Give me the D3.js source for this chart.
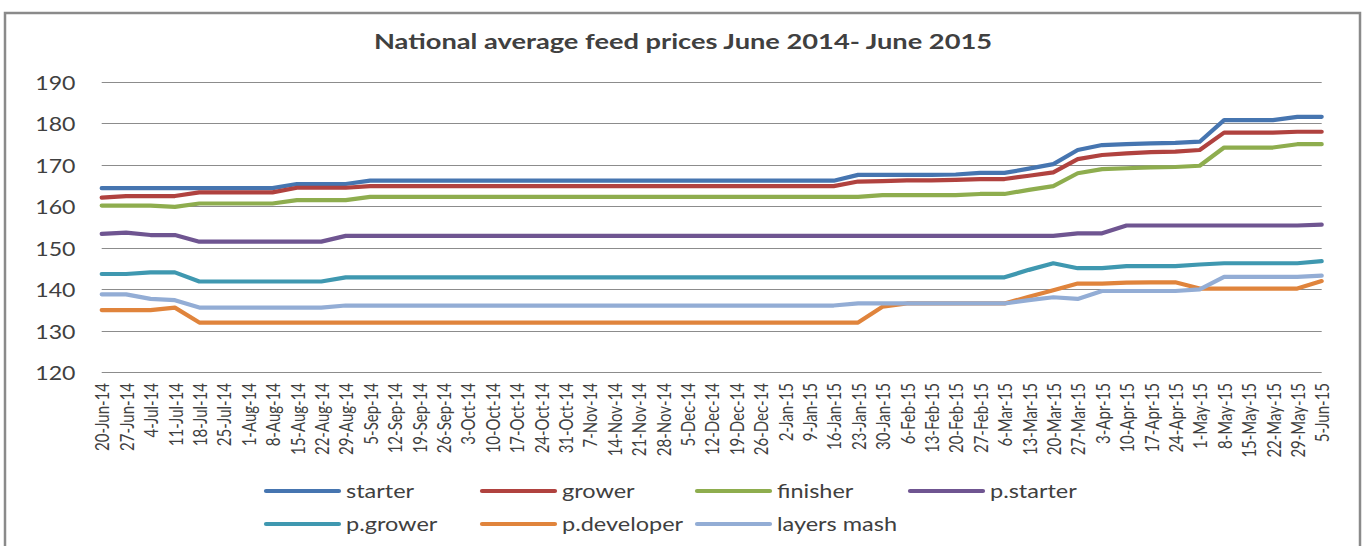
<!DOCTYPE html>
<html>
<head>
<meta charset="utf-8">
<script src="https://cdn.jsdelivr.net/npm/d3@7"></script>
<style>
html,body{margin:0;padding:0;background:#fff;}
svg{display:block;}
text{font-family:Lato,"Open Sans",sans-serif;fill:#404040;}
</style>
</head>
<body>
<svg id="chart" width="1366" height="546"></svg>
<script>
const categories = ["20-Jun-14","27-Jun-14","4-Jul-14","11-Jul-14","18-Jul-14","25-Jul-14","1-Aug-14","8-Aug-14","15-Aug-14","22-Aug-14","29-Aug-14","5-Sep-14","12-Sep-14","19-Sep-14","26-Sep-14","3-Oct-14","10-Oct-14","17-Oct-14","24-Oct-14","31-Oct-14","7-Nov-14","14-Nov-14","21-Nov-14","28-Nov-14","5-Dec-14","12-Dec-14","19-Dec-14","26-Dec-14","2-Jan-15","9-Jan-15","16-Jan-15","23-Jan-15","30-Jan-15","6-Feb-15","13-Feb-15","20-Feb-15","27-Feb-15","6-Mar-15","13-Mar-15","20-Mar-15","27-Mar-15","3-Apr-15","10-Apr-15","17-Apr-15","24-Apr-15","1-May-15","8-May-15","15-May-15","22-May-15","29-May-15","5-Jun-15"];

const starter = [164.4,164.4,164.4,164.4,164.4,164.4,164.4,164.4,165.4,165.4,165.4,166.2,166.2,166.2,166.2,166.2,166.2,166.2,166.2,166.2,166.2,166.2,166.2,166.2,166.2,166.2,166.2,166.2,166.2,166.2,166.2,167.6,167.6,167.6,167.6,167.7,168.1,168.1,169.1,170.2,173.6,174.8,175.0,175.2,175.3,175.6,180.8,180.8,180.8,181.6,181.6];
const grower = [162.1,162.5,162.5,162.5,163.4,163.4,163.4,163.4,164.5,164.5,164.5,164.9,164.9,164.9,164.9,164.9,164.9,164.9,164.9,164.9,164.9,164.9,164.9,164.9,164.9,164.9,164.9,164.9,164.9,164.9,164.9,166.0,166.1,166.3,166.3,166.4,166.6,166.6,167.4,168.2,171.4,172.4,172.8,173.1,173.2,173.6,177.8,177.8,177.8,178.0,178.0];
const finisher = [160.2,160.2,160.2,159.9,160.7,160.7,160.7,160.7,161.5,161.5,161.5,162.3,162.3,162.3,162.3,162.3,162.3,162.3,162.3,162.3,162.3,162.3,162.3,162.3,162.3,162.3,162.3,162.3,162.3,162.3,162.3,162.3,162.7,162.7,162.7,162.7,163.0,163.0,164.0,164.9,168.0,169.0,169.2,169.4,169.5,169.8,174.2,174.2,174.2,175.0,175.0];
const pStarter = [153.4,153.7,153.1,153.1,151.5,151.5,151.5,151.5,151.5,151.5,152.9,152.9,152.9,152.9,152.9,152.9,152.9,152.9,152.9,152.9,152.9,152.9,152.9,152.9,152.9,152.9,152.9,152.9,152.9,152.9,152.9,152.9,152.9,152.9,152.9,152.9,152.9,152.9,152.9,152.9,153.5,153.5,155.4,155.4,155.4,155.4,155.4,155.4,155.4,155.4,155.6];
const pGrower = [143.7,143.7,144.1,144.1,141.9,141.9,141.9,141.9,141.9,141.9,142.9,142.9,142.9,142.9,142.9,142.9,142.9,142.9,142.9,142.9,142.9,142.9,142.9,142.9,142.9,142.9,142.9,142.9,142.9,142.9,142.9,142.9,142.9,142.9,142.9,142.9,142.9,142.9,144.7,146.3,145.1,145.1,145.6,145.6,145.6,146.0,146.3,146.3,146.3,146.3,146.8];
const pDeveloper = [135.0,135.0,135.0,135.6,132.0,132.0,132.0,132.0,132.0,132.0,132.0,132.0,132.0,132.0,132.0,132.0,132.0,132.0,132.0,132.0,132.0,132.0,132.0,132.0,132.0,132.0,132.0,132.0,132.0,132.0,132.0,132.0,135.8,136.6,136.6,136.6,136.6,136.6,138.2,139.8,141.4,141.4,141.6,141.7,141.7,140.2,140.2,140.2,140.2,140.2,142.0];
const layersMash = [138.8,138.8,137.7,137.4,135.6,135.6,135.6,135.6,135.6,135.6,136.1,136.1,136.1,136.1,136.1,136.1,136.1,136.1,136.1,136.1,136.1,136.1,136.1,136.1,136.1,136.1,136.1,136.1,136.1,136.1,136.1,136.6,136.6,136.6,136.6,136.6,136.6,136.6,137.4,138.1,137.7,139.6,139.6,139.6,139.6,140.0,143.0,143.0,143.0,143.0,143.3];

const seriesNames = ["starter","grower","finisher","p.starter","p.grower","p.developer","layers mash"];
const seriesColors = ["#4675B0","#B0423F","#8EAD4E","#6F5591","#3F98B0","#E0843C","#93ADD5"];
const yTicks = [120,130,140,150,160,170,180,190];
const titleText = "National average feed prices June 2014- June 2015";

const seriesValues = [starter, grower, finisher, pStarter, pGrower, pDeveloper, layersMash];
const series = seriesNames.map((n,i)=>({name:n, color:seriesColors[i], values:seriesValues[i]}));

const SX = 1.25; // horizontal stretch of text
const svg = d3.select("#chart");

// outer frame
svg.append("rect").attr("x",5).attr("y",13).attr("width",1355).attr("height",560)
  .attr("fill","#fff").attr("stroke","#8a8a8a").attr("stroke-width",2.5);

const x = d3.scalePoint().domain(categories).range([101.7,1321.7]);
const y = d3.scaleLinear().domain([120,190]).range([372.3,82]);

// gridlines
svg.append("g").selectAll("line").data(yTicks).join("line")
  .attr("x1",101.7).attr("x2",1321.7)
  .attr("y1",d=>Math.round(y(d))+0.5).attr("y2",d=>Math.round(y(d))+0.5)
  .attr("stroke","#8c8c8c").attr("stroke-width",1);

// y labels
const yAxis = d3.axisLeft(y).tickValues(yTicks).tickSize(0).tickPadding(0);
const yg = svg.append("g").attr("transform","translate(75.5,0)").call(yAxis);
yg.select(".domain").remove();
yg.selectAll(".tick text").each(function(){
  const t = d3.select(this);
  t.attr("x",0).attr("dy",null).attr("dominant-baseline","central")
   .attr("font-size",18.5).attr("fill","#404040").attr("font-family","Lato")
   .attr("transform",`scale(${SX},1)`);
});

// x labels
const xAxis = d3.axisBottom(x).tickSize(0).tickPadding(0);
const xg = svg.append("g").attr("transform","translate(0,383)").call(xAxis);
xg.select(".domain").remove();
xg.selectAll(".tick text").each(function(){
  d3.select(this).attr("y",0).attr("dy",null).attr("x",0)
    .attr("text-anchor","end").attr("dominant-baseline","central")
    .attr("font-size",15).attr("fill","#404040").attr("font-family","Lato")
    .attr("transform",`scale(${SX},1) rotate(-90)`);
});

// lines
const line = d3.line().x((d,i)=>x(categories[i])).y(d=>y(d));
svg.append("g").selectAll("path").data(series).join("path")
  .attr("d",d=>line(d.values)).attr("fill","none")
  .attr("stroke",d=>d.color).attr("stroke-width",4.2)
  .attr("stroke-linejoin","round").attr("stroke-linecap","round");

// title
svg.append("g").attr("transform","translate(683,49) scale("+SX+",1)")
  .append("text").attr("text-anchor","middle").attr("font-weight","bold")
  .attr("font-size",21.8).attr("fill","#000").text(titleText);

// legend
const legCols = [266,482,697,910];
const legRows = [491,524];
const leg = svg.append("g").selectAll("g").data(series).join("g")
  .attr("transform",(d,i)=>`translate(${legCols[i%4]},${legRows[Math.floor(i/4)]})`);
leg.append("line").attr("x1",0).attr("x2",73).attr("y1",0).attr("y2",0)
  .attr("stroke",d=>d.color).attr("stroke-width",4.2).attr("stroke-linecap","round");
leg.append("g").attr("transform",`translate(80,0) scale(${SX},1)`)
  .append("text").attr("dominant-baseline","central").attr("font-size",18.8)
  .attr("fill","#262626").text(d=>d.name);
</script>
</body>
</html>
